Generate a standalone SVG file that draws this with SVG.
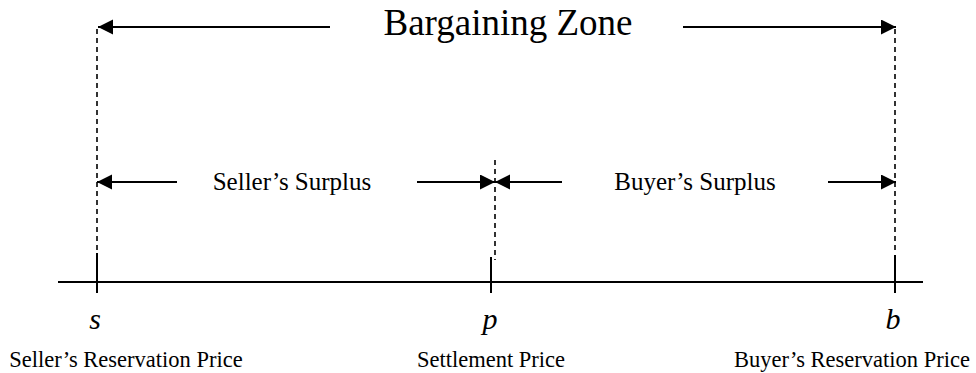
<svg xmlns="http://www.w3.org/2000/svg" width="976" height="373" viewBox="0 0 976 373">
<style>
.t{font-family:"Liberation Serif","Times New Roman",serif;fill:#000}
.big{font-size:37px}
.mid{font-size:25px}
.lab{font-size:22.5px}
.var{font-size:30px;font-style:italic}
.solid{stroke:#000;stroke-width:2;fill:none}
.dash{stroke:#000;stroke-width:1.6;fill:none;stroke-dasharray:5 4}
.arr{stroke:#000;stroke-width:2;fill:none;marker-end:url(#ah)}
</style>
<defs>
<marker id="ah" markerUnits="userSpaceOnUse" markerWidth="16" markerHeight="16" refX="15" refY="7.5" orient="auto">
<path d="M0,0 L15,7.5 L0,15 z" fill="#000"/>
</marker>
</defs>
<rect width="976" height="373" fill="#fff"/>
<g id="axis">
<line class="solid" x1="58" y1="282" x2="923" y2="282"/>
</g>
<g id="seller-point">
<line class="dash" x1="97" y1="29" x2="97" y2="250"/>
<line class="solid" x1="97" y1="253" x2="97" y2="293"/>
<text class="t var" x="95" y="329" text-anchor="middle">s</text>
<text class="t lab" x="126" y="367" text-anchor="middle">Seller’s Reservation Price</text>
</g>
<g id="settlement-point">
<line class="dash" x1="495" y1="160" x2="495" y2="260"/>
<line class="solid" x1="491" y1="257" x2="491" y2="293"/>
<text class="t var" x="490" y="329" text-anchor="middle">p</text>
<text class="t lab" x="491" y="367" text-anchor="middle">Settlement Price</text>
</g>
<g id="buyer-point">
<line class="dash" x1="895" y1="29" x2="895" y2="250"/>
<line class="solid" x1="895" y1="255" x2="895" y2="293"/>
<text class="t var" x="893" y="329" text-anchor="middle">b</text>
<text class="t lab" x="852" y="367" text-anchor="middle">Buyer’s Reservation Price</text>
</g>
<g id="bargaining-zone">
<text class="t big" x="508" y="35" text-anchor="middle">Bargaining Zone</text>
</g>
<g id="sellers-surplus">
<text class="t mid" x="292" y="190" text-anchor="middle">Seller’s Surplus</text>
</g>
<g id="buyers-surplus">
<text class="t mid" x="695" y="190" text-anchor="middle">Buyer’s Surplus</text>
</g>
<g id="connectors">
<line class="arr" x1="330" y1="27" x2="98" y2="27"/>
<line class="arr" x1="683" y1="27" x2="896" y2="27"/>
<line class="arr" x1="177" y1="182" x2="97" y2="182"/>
<line class="arr" x1="417" y1="182" x2="495" y2="182"/>
<line class="arr" x1="562" y1="182" x2="495" y2="182"/>
<line class="arr" x1="828" y1="182" x2="896" y2="182"/>
</g>
</svg>
